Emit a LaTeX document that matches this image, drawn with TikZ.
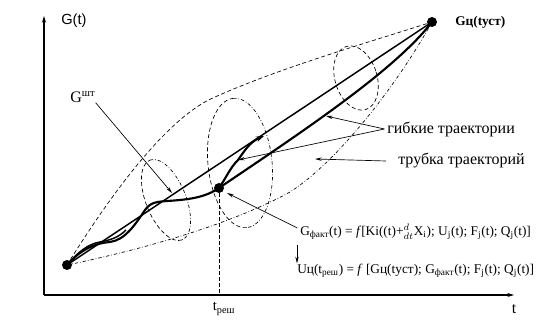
\documentclass[tikz,border=0pt]{standalone}
\usepackage{fontspec}
\setmainfont{Liberation Serif}
\setsansfont{Liberation Sans}
\usetikzlibrary{arrows.meta,positioning,calc}

\begin{document}
\begin{tikzpicture}[x=0.75pt,y=-0.75pt,font=\fontsize{12}{14}\selectfont,
  ax/.style={line width=1.2pt,-{Stealth[length=5pt,width=3pt]}},
  lead/.style={line width=0.5pt,-{Stealth[length=5pt,width=2.5pt]}},
  pt/.style={circle,fill,inner sep=0pt,minimum size=7.5pt},
  tubeup/.style={line width=0.5pt,dash pattern=on 3pt off 2pt},
  tubelo/.style={line width=0.5pt,dash pattern=on 2.5pt off 1.5pt on 0.5pt off 1.5pt},
  traj/.style={line width=1.6pt},
  txt/.style={anchor=west,inner sep=0pt},
  frm/.style={txt,font=\fontsize{10}{12}\selectfont}]
\useasboundingbox (0,0) rectangle (554,320);
\coordinate (o) at (44,295);
\coordinate (ytop) at (44,16);
\coordinate (xend) at (514,295);
\draw[ax] (o) -- (ytop);
\draw[ax] (o) -- (xend);
\node[txt,font=\sffamily\fontsize{11}{13}\selectfont] (gt) at (61,21) {G(t)};
\node (tx) at (514,309) {t};
% tube of trajectories
\draw[tubeup] (67,265) .. controls (95,220) and (160,120) .. (215,97) .. controls (280,68) and (360,45) .. (432,22);
\draw[tubelo] (67,265) .. controls (140,250) and (230,225) .. (290,192) .. controls (340,160) and (400,80) .. (432,22);
\begin{scope}[shift={(166,200)},rotate=22]
\draw[tubeup] (0,43) arc[start angle=90,end angle=270,x radius=20,y radius=43];
\draw[tubelo] (0,-43) arc[start angle=-90,end angle=90,x radius=20,y radius=43];
\end{scope}
\begin{scope}[shift={(240,163)},rotate=6]
\draw[tubeup] (0,65) arc[start angle=90,end angle=270,x radius=32,y radius=65];
\draw[tubelo] (0,-65) arc[start angle=-90,end angle=90,x radius=32,y radius=65];
\end{scope}
\begin{scope}[shift={(356,78)},rotate=17]
\draw[tubeup] (0,0) ellipse[x radius=21,y radius=33];
\end{scope}
% points and trajectories
\node[pt] (s) at (67,265) {};
\node[pt] (m) at (219,188) {};
\node[pt] (e) at (432,22) {};
\draw[line width=1.1pt] (s.center) -- (e.center);
\draw[traj] (m.center) .. controls (305,130) and (395,70) .. (e.center);
\draw[traj] (s.center) .. controls (80,250) and (95,243) .. (110,242) .. controls (125,240) and (135,225) .. (145,210) .. controls (152,200) and (160,202) .. (180,200) .. controls (200,198) and (210,194) .. (m.center);
\draw[line width=1.1pt] (s.center) .. controls (78,252) and (88,244) .. (100,242) .. controls (110,240) and (118,238) .. (126,230);
\draw[traj,-{Stealth[length=6pt,width=4pt]}] (m.center) .. controls (226,178) and (230,168) .. (238,160) .. controls (245,150) and (250,142) .. (264,136);
\draw[line width=0.5pt,dash pattern=on 2.5pt off 2pt] (m) -- (m |- o);
\node[font=\fontsize{11}{13}\selectfont] (tres) at (224,309) {t\textsubscript{реш}};
\node[txt,font=\bfseries\fontsize{10}{12}\selectfont] (ge) at (455,22) {Gц(tуст)};
% labels and leaders
\node[txt] (gsht) at (70,97) {G\textsuperscript{шт}};
\coordinate (gshtend) at (172,193);
\draw[lead] (gsht.south east) -- (gshtend);
\node[txt] (flex) at (387,129) {гибкие траектории};
\coordinate (flexa) at (326,116);
\coordinate (flexb) at (238,160);
\draw[lead] ([xshift=-2pt]flex.west) -- (flexa);
\draw[lead] ([xshift=-2pt]flex.west) -- (flexb);
\node[txt] (tube) at (398,161) {трубка траекторий};
\coordinate (tubeend) at (315,159);
\draw[lead] ([xshift=-9pt]tube.west) -- (tubeend);
\node[frm] (gfact) at (300,232) {G\textsubscript{факт}(t) = \textit{f}[Ki((t)+${}^{d}_{dt}$X\textsubscript{i}); U\textsubscript{j}(t); F\textsubscript{j}(t); Q\textsubscript{j}(t)]};
\coordinate (gfactend) at (227,193);
\draw[lead] ([xshift=-2pt,yshift=3pt]gfact.west) -- (gfactend);
\node[frm] (uc) at (297,271) {Uц(t\textsubscript{реш}) = \textit{f} [Gц(tуст); G\textsubscript{факт}(t); F\textsubscript{j}(t); Q\textsubscript{j}(t)]};
\coordinate (dn) at (297,245);
\draw[lead] (dn) -- ([yshift=0.5pt]uc.north west);
\end{tikzpicture}
\end{document}
